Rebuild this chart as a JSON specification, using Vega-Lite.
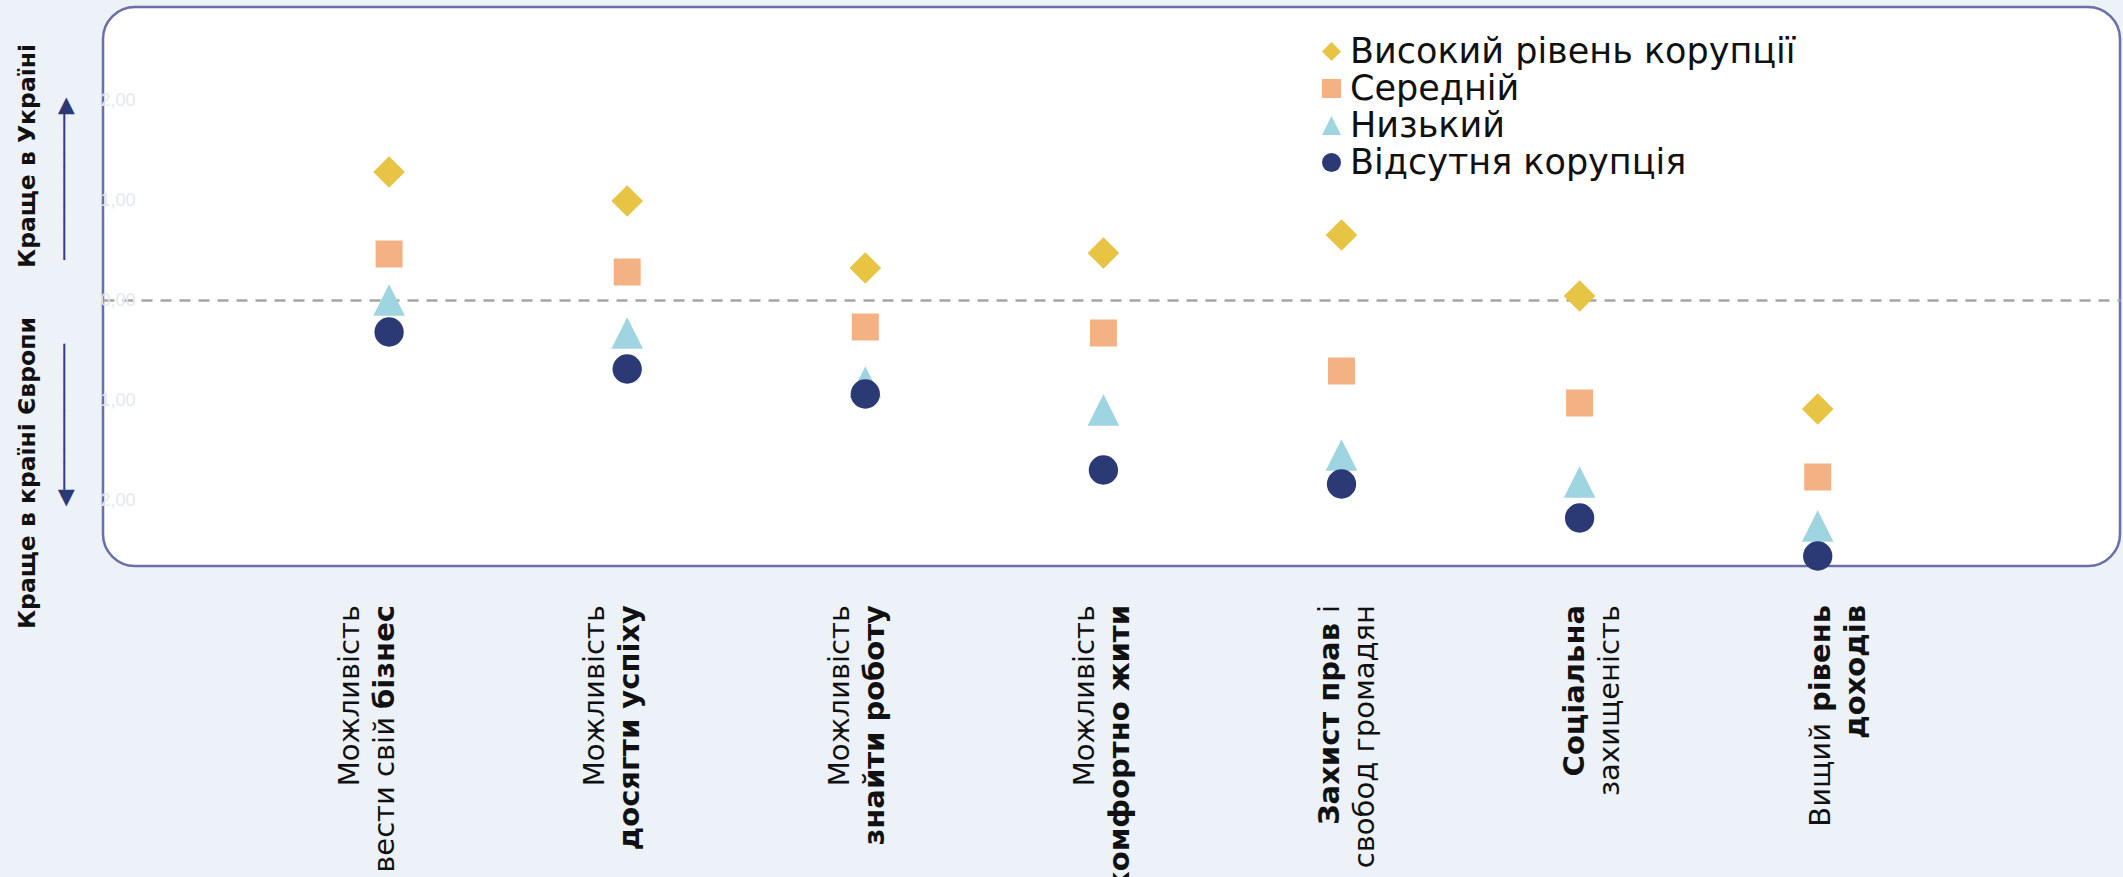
{
  "$schema": "https://vega.github.io/schema/vega-lite/v6.json",
  "autosize": {"type": "none"},
  "padding": {"left": 103, "top": 7, "right": 3, "bottom": 311},
  "width": 2017,
  "height": 559,
  "background": "#edf1f8",
  "config": {
    "view": {"fill": "white", "stroke": "#6b6fa7", "strokeWidth": 2.5, "cornerRadius": 32},
    "font": "DejaVu Sans"
  },
  "datasets": {
    "points": [
      {"category": "Можливість вести свій бізнес", "level": "Високий рівень корупції", "value": 1.28},
      {"category": "Можливість досягти успіху", "level": "Високий рівень корупції", "value": 0.99},
      {"category": "Можливість знайти роботу", "level": "Високий рівень корупції", "value": 0.32},
      {"category": "Можливість комфортно жити", "level": "Високий рівень корупції", "value": 0.47},
      {"category": "Захист прав і свобод громадян", "level": "Високий рівень корупції", "value": 0.65},
      {"category": "Соціальна захищеність", "level": "Високий рівень корупції", "value": 0.04},
      {"category": "Вищий рівень доходів", "level": "Високий рівень корупції", "value": -1.09},
      {"category": "Можливість вести свій бізнес", "level": "Середній", "value": 0.46},
      {"category": "Можливість досягти успіху", "level": "Середній", "value": 0.28},
      {"category": "Можливість знайти роботу", "level": "Середній", "value": -0.27},
      {"category": "Можливість комфортно жити", "level": "Середній", "value": -0.33},
      {"category": "Захист прав і свобод громадян", "level": "Середній", "value": -0.71},
      {"category": "Соціальна захищеність", "level": "Середній", "value": -1.03},
      {"category": "Вищий рівень доходів", "level": "Середній", "value": -1.77},
      {"category": "Можливість вести свій бізнес", "level": "Низький", "value": 0.0},
      {"category": "Можливість досягти успіху", "level": "Низький", "value": -0.33},
      {"category": "Можливість знайти роботу", "level": "Низький", "value": -0.82},
      {"category": "Можливість комфортно жити", "level": "Низький", "value": -1.1},
      {"category": "Захист прав і свобод громадян", "level": "Низький", "value": -1.55},
      {"category": "Соціальна захищеність", "level": "Низький", "value": -1.82},
      {"category": "Вищий рівень доходів", "level": "Низький", "value": -2.26},
      {"category": "Можливість вести свій бізнес", "level": "Відсутня корупція", "value": -0.32},
      {"category": "Можливість досягти успіху", "level": "Відсутня корупція", "value": -0.69},
      {"category": "Можливість знайти роботу", "level": "Відсутня корупція", "value": -0.94},
      {"category": "Можливість комфортно жити", "level": "Відсутня корупція", "value": -1.7},
      {"category": "Захист прав і свобод громадян", "level": "Відсутня корупція", "value": -1.84},
      {"category": "Соціальна захищеність", "level": "Відсутня корупція", "value": -2.18},
      {"category": "Вищий рівень доходів", "level": "Відсутня корупція", "value": -2.56}
    ],
    "xlabels": [
      {"category": "Можливість вести свій бізнес", "line": 1, "part": "end", "emphasis": false, "text": "Можливість"},
      {"category": "Можливість вести свій бізнес", "line": 2, "part": "end", "emphasis": true, "text": "бізнес"},
      {"category": "Можливість вести свій бізнес", "line": 2, "part": "pre", "emphasis": false, "text": "вести свій"},
      {"category": "Можливість досягти успіху", "line": 1, "part": "end", "emphasis": false, "text": "Можливість"},
      {"category": "Можливість досягти успіху", "line": 2, "part": "end", "emphasis": true, "text": "досягти успіху"},
      {"category": "Можливість знайти роботу", "line": 1, "part": "end", "emphasis": false, "text": "Можливість"},
      {"category": "Можливість знайти роботу", "line": 2, "part": "end", "emphasis": true, "text": "знайти роботу"},
      {"category": "Можливість комфортно жити", "line": 1, "part": "end", "emphasis": false, "text": "Можливість"},
      {"category": "Можливість комфортно жити", "line": 2, "part": "end", "emphasis": true, "text": "комфортно жити"},
      {"category": "Захист прав і свобод громадян", "line": 1, "part": "end", "emphasis": false, "text": "і"},
      {"category": "Захист прав і свобод громадян", "line": 1, "part": "pre", "emphasis": true, "text": "Захист прав"},
      {"category": "Захист прав і свобод громадян", "line": 2, "part": "end", "emphasis": false, "text": "свобод громадян"},
      {"category": "Соціальна захищеність", "line": 1, "part": "end", "emphasis": true, "text": "Соціальна"},
      {"category": "Соціальна захищеність", "line": 2, "part": "end", "emphasis": false, "text": "захищеність"},
      {"category": "Вищий рівень доходів", "line": 1, "part": "end", "emphasis": true, "text": "рівень"},
      {"category": "Вищий рівень доходів", "line": 1, "part": "pre", "emphasis": false, "text": "Вищий"},
      {"category": "Вищий рівень доходів", "line": 2, "part": "end", "emphasis": true, "text": "доходів"}
    ]
  },
  "resolve": {"scale": {"x": "independent"}},
  "layer": [
    {
      "data": {"name": "points"},
      "mark": {"type": "point", "filled": true, "opacity": 1, "strokeWidth": 0},
      "encoding": {
        "x": {
          "field": "category", "type": "nominal", "sort": null,
          "scale": {"type": "band", "paddingInner": 0.529, "paddingOuter": 1, "align": 0.483},
          "axis": {
            "labels": false, "ticks": false, "domain": false, "grid": false,
            "title": "Краще в країні Європи\u00a0\u00a0\u00a0\u00a0\u00a0\u00a0Краще в Україні",
            "titleAngle": 270, "titleAlign": "center", "titleBaseline": "middle",
            "titleX": -76, "titleY": -230,
            "titleFont": "DejaVu Sans", "titleFontWeight": "bold", "titleFontSize": 23.5, "titleColor": "#111111"
          }
        },
        "y": {
          "field": "value", "type": "quantitative",
          "scale": {"domain": [-2.66, 2.93], "nice": false, "zero": false},
          "axis": {
            "values": [-2, -1, 0, 1, 2],
            "labelExpr": "replace(format(abs(datum.value), '.2f'), '.', ',')",
            "grid": true,
            "gridColor": "#a5a5a5", "gridWidth": 2.5, "gridDash": [11, 8],
            "gridOpacity": {"condition": {"test": "datum.value === 0", "value": 1}, "value": 0},
            "domain": false, "ticks": false, "tickSize": 0,
            "labelAlign": "left", "labelPadding": 3, "labelBaseline": "middle",
            "labelFont": "Liberation Sans", "labelFontSize": 18, "labelColor": "#e3e7f0",
            "title": "◀───────────\u00a0\u00a0\u00a0\u00a0\u00a0\u00a0\u00a0\u00a0\u00a0\u00a0\u00a0\u00a0───────────▶",
            "titleAngle": 270, "titleAlign": "center", "titleBaseline": "middle",
            "titleX": -39, "titleY": 294.5,
            "titleFont": "DejaVu Sans", "titleFontWeight": "normal", "titleFontSize": 22, "titleColor": "#2b3a75"
          }
        },
        "color": {
          "field": "level", "type": "nominal",
          "scale": {
            "domain": ["Високий рівень корупції", "Середній", "Низький", "Відсутня корупція"],
            "range": ["#e7c443", "#f4b183", "#9ed5e0", "#2b3a75"]
          },
          "legend": {
            "title": null, "orient": "none", "legendX": 1211, "legendY": 27,
            "labelFont": "DejaVu Sans", "labelFontSize": 35, "labelColor": "#111111", "labelLimit": 0,
            "symbolSize": 360, "rowPadding": 1, "padding": 0, "labelOffset": 1,
            "symbolStrokeWidth": 0, "symbolOpacity": 1
          }
        },
        "shape": {
          "field": "level", "type": "nominal",
          "scale": {
            "domain": ["Високий рівень корупції", "Середній", "Низький", "Відсутня корупція"],
            "range": ["diamond", "square", "M0,-1L1,1L-1,1Z", "circle"]
          }
        },
        "size": {
          "condition": [
            {"test": "datum.level === 'Середній'", "value": 729},
            {"test": "datum.level === 'Відсутня корупція'", "value": 860}
          ],
          "value": 1000
        }
      }
    },
    {
      "data": {"name": "xlabels"},
      "encoding": {
        "x": {
          "field": "category", "type": "nominal",
          "sort": ["Можливість вести свій бізнес", "Можливість досягти успіху", "Можливість знайти роботу", "Можливість комфортно жити", "Захист прав і свобод громадян", "Соціальна захищеність", "Вищий рівень доходів"],
          "scale": {"type": "band", "paddingInner": 0.771, "paddingOuter": 1, "align": 0.482},
          "axis": null
        },
        "y": {"datum": -3.05, "type": "quantitative", "scale": {"domain": [-2.66, 2.93], "nice": false, "zero": false}},
        "text": {"field": "text"}
      },
      "layer": [
        {
          "transform": [{"filter": "datum.part == 'end' && !datum.emphasis && datum.line == 1"}],
          "mark": {"type": "text", "angle": 270, "align": "right", "baseline": "middle", "dy": -17.5, "font": "DejaVu Sans", "fontSize": 29, "fontWeight": "normal", "color": "#111111"}
        },
        {
          "transform": [{"filter": "datum.part == 'end' && !datum.emphasis && datum.line == 2"}],
          "mark": {"type": "text", "angle": 270, "align": "right", "baseline": "middle", "dy": 17.5, "font": "DejaVu Sans", "fontSize": 29, "fontWeight": "normal", "color": "#111111"}
        },
        {
          "transform": [{"filter": "datum.part == 'end' && datum.emphasis && datum.line == 1"}],
          "mark": {"type": "text", "angle": 270, "align": "right", "baseline": "middle", "dy": -17.5, "font": "DejaVu Sans", "fontSize": 29, "fontWeight": "bold", "color": "#111111"}
        },
        {
          "transform": [{"filter": "datum.part == 'end' && datum.emphasis && datum.line == 2"}],
          "mark": {"type": "text", "angle": 270, "align": "right", "baseline": "middle", "dy": 17.5, "font": "DejaVu Sans", "fontSize": 29, "fontWeight": "bold", "color": "#111111"}
        },
        {
          "transform": [{"filter": "datum.part == 'pre' && datum.category == 'Можливість вести свій бізнес'"}],
          "mark": {"type": "text", "angle": 270, "align": "right", "baseline": "middle", "dy": 17.5, "dx": -112, "font": "DejaVu Sans", "fontSize": 29, "fontWeight": "normal", "color": "#111111"}
        },
        {
          "transform": [{"filter": "datum.part == 'pre' && datum.category == 'Захист прав і свобод громадян'"}],
          "mark": {"type": "text", "angle": 270, "align": "right", "baseline": "middle", "dy": -17.5, "dx": -18, "font": "DejaVu Sans", "fontSize": 29, "fontWeight": "bold", "color": "#111111"}
        },
        {
          "transform": [{"filter": "datum.part == 'pre' && datum.category == 'Вищий рівень доходів'"}],
          "mark": {"type": "text", "angle": 270, "align": "right", "baseline": "middle", "dy": -17.5, "dx": -118, "font": "DejaVu Sans", "fontSize": 29, "fontWeight": "normal", "color": "#111111"}
        }
      ]
    }
  ]
}
